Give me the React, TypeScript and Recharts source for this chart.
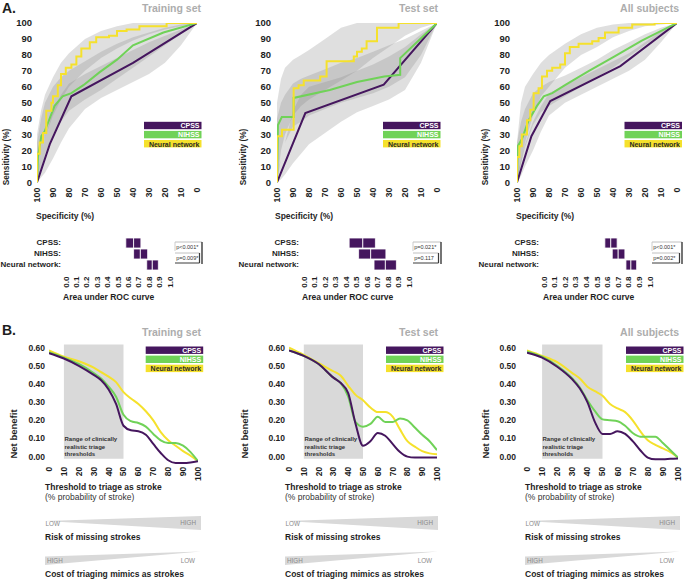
import React from 'react';
import { ComposedChart, LineChart, BarChart, Line, Area, Bar, XAxis, YAxis, ReferenceArea } from 'recharts';

const FONT = '"Liberation Sans", Arial, Helvetica, sans-serif';
const PURPLE = '#45165e';
const GREEN = '#70d258';
const YELLOW = '#f5e12c';
const BAND = '#8a8a8a';
const INK = '#1e1e1e';

// ---------- text / categories ----------
const setTitles = ['Training set', 'Test set', 'All subjects'];
const seriesNames = ['CPSS', 'NIHSS', 'Neural network'];
const aucLabels = ['CPSS:', 'NIHSS:', 'Neural network:'];
const rocTicks = [0, 10, 20, 30, 40, 50, 60, 70, 80, 90, 100];
const aucTicks = [0, 0.1, 0.2, 0.3, 0.4, 0.5, 0.6, 0.7, 0.8, 0.9, 1.0];
const dcaYTicks = [0, 0.1, 0.2, 0.3, 0.4, 0.5, 0.6];

// ---------- ROC curves: [100 - specificity, sensitivity] ----------
const trainCpssRoc = [[0, 0], [8, 24], [21.5, 54], [60, 75], [100, 100]];
const trainNihssRoc = [[0, 0], [0.6, 16], [2.7, 29], [4.8, 32], [11, 48], [16, 54], [21.5, 56], [29, 61], [39, 69], [50, 77], [60, 86], [79, 94], [100, 100]];
const trainNnStepFpr = [0, 1.7, 3.75, 5.8, 9, 10, 13, 15, 18, 21.5, 24.6, 27.7, 33, 37, 45, 50, 56, 64, 81];
const trainNnStepSens = [18, 25, 31, 45, 50, 54, 61, 68, 72, 74, 79, 84, 88, 91, 92, 95, 96, 98, 100];

const testCpssRoc = [[0, 0], [17.7, 43.5], [66.7, 61.3], [100, 100]];
const testNihssRoc = [[0, 0], [0.6, 36], [3, 41], [10.4, 41], [10.4, 53], [33, 58], [50, 63], [67, 66.5], [77, 67.5], [77, 78], [100, 100]];
const testNnStepFpr = [0, 3.1, 10.4, 13.5, 16.7, 27, 31, 48, 50, 53, 56, 62.5, 76];
const testNnStepSens = [29, 33, 59, 61, 64, 66.5, 76, 79, 82, 84, 88.5, 97, 100];

const allCpssRoc = [[0, 0], [9, 29], [20.8, 51], [64.6, 73], [100, 100]];
const allNihssRoc = [[0, 0], [0.4, 22.6], [3, 27], [7.3, 39], [12.5, 48], [16.7, 54], [22, 56], [30, 61], [45, 70], [61, 79], [78, 89], [100, 100]];
const allNnStepFpr = [0, 1.5, 3, 6.25, 8.3, 10.4, 13.5, 15.6, 18.75, 22, 27, 30, 33, 38.5, 47, 51, 55, 63.5, 72, 86];
const allNnStepSens = [16, 22.6, 30, 39, 45.6, 56, 59, 66.5, 70, 72, 74, 81, 85, 87, 88.5, 90.6, 94, 97, 99, 100];

// ---------- ROC confidence bands ----------
const bandFpr = [0, 2.5, 5, 10, 15, 20, 30, 40, 50, 60, 70, 80, 90, 100];
const trainCpssLo = [0, 3, 6, 15, 25, 34, 46, 53, 58, 63, 68, 75, 86, 100];
const trainCpssHi = [5, 15, 28, 45, 55, 62, 68, 73, 78, 83, 88, 92, 96, 100];
const trainNihssLo = [0, 8, 18, 30, 38, 45, 52, 58, 65, 72, 79, 86, 93, 100];
const trainNihssHi = [25, 40, 50, 60, 66, 70, 76, 82, 87, 91, 94, 97, 99, 100];
const trainNnLo = [0, 15, 28, 42, 52, 60, 70, 78, 84, 89, 93, 96, 98, 100];
const trainNnHi = [30, 45, 55, 66, 75, 81, 90, 95, 98, 100, 100, 100, 100, 100];

const testCpssLo = [0, 2, 5, 12, 18, 24, 31, 38, 44, 48, 52, 58, 75, 100];
const testCpssHi = [5, 15, 25, 45, 55, 60, 63, 66, 70, 74, 79, 85, 93, 100];
const testNihssLo = [0, 15, 25, 35, 38, 42, 46, 50, 53, 56, 60, 66, 80, 100];
const testNihssHi = [40, 50, 55, 62, 65, 67, 71, 75, 78, 82, 86, 90, 95, 100];
const testNnLo = [0, 20, 30, 42, 48, 52, 58, 64, 70, 78, 85, 92, 97, 100];
const testNnHi = [50, 65, 72, 77, 80, 83, 90, 97, 100, 100, 100, 100, 100, 100];

const allCpssLo = [0, 4, 10, 20, 32, 42, 50, 55, 60, 65, 70, 77, 88, 100];
const allCpssHi = [4, 14, 24, 38, 48, 56, 61, 66, 71, 76, 81, 88, 95, 100];
const allNihssLo = [0, 12, 22, 36, 44, 48, 54, 60, 66, 72, 79, 86, 93, 100];
const allNihssHi = [25, 38, 46, 56, 60, 63, 67, 72, 77, 83, 88, 93, 97, 100];
const allNnLo = [0, 12, 25, 42, 54, 60, 72, 80, 85, 91, 95, 98, 99, 100];
const allNnHi = [25, 50, 60, 68, 75, 80, 87, 93, 97, 99, 100, 100, 100, 100];

// ---------- AUC (lower CI, estimate, upper CI) ----------
const trainAucLo = [0.575, 0.65, 0.776];
const trainAucEst = [0.65, 0.715, 0.83];
const trainAucHi = [0.72, 0.785, 0.888];
const testAucLo = [0.43, 0.52, 0.667];
const testAucEst = [0.56, 0.635, 0.775];
const testAucHi = [0.68, 0.78, 0.88];
const allAucLo = [0.574, 0.644, 0.773];
const allAucEst = [0.63, 0.70, 0.82];
const allAucHi = [0.69, 0.763, 0.874];
const trainP = ['p<0.001*', 'p=0.009*'];
const testP = ['p=0.021*', 'p=0.117'];
const allP = ['p<0.001*', 'p=0.002*'];

// ---------- Decision curves (net benefit) ----------
const dcaT = [0, 10, 20, 30, 35, 40, 45, 50, 55, 60, 65, 70, 75, 80, 85, 90, 95, 100];
const trainDcaCpss = [0.57, 0.54, 0.50, 0.45, 0.42, 0.37, 0.29, 0.17, 0.145, 0.14, 0.12, 0.07, 0.02, -0.02, -0.035, -0.035, -0.032, -0.025];
const trainDcaNihss = [0.575, 0.545, 0.51, 0.46, 0.43, 0.385, 0.33, 0.23, 0.195, 0.185, 0.165, 0.125, 0.09, 0.075, 0.075, 0.06, 0.025, -0.025];
const trainDcaNn = [0.585, 0.55, 0.525, 0.49, 0.465, 0.44, 0.41, 0.355, 0.32, 0.29, 0.25, 0.2, 0.135, 0.09, 0.06, 0.03, 0.005, -0.025];
const testDcaCpss = [0.585, 0.555, 0.51, 0.435, 0.405, 0.35, 0.18, 0.06, 0.085, 0.13, 0.115, 0.07, 0.025, 0.0, -0.005, -0.005, -0.005, -0.005];
const testDcaNihss = [0.585, 0.555, 0.51, 0.435, 0.405, 0.33, 0.19, 0.165, 0.18, 0.22, 0.19, 0.19, 0.21, 0.2, 0.16, 0.12, 0.085, 0.035];
const testDcaNn = [0.6, 0.56, 0.515, 0.47, 0.445, 0.39, 0.34, 0.31, 0.27, 0.245, 0.245, 0.22, 0.15, 0.085, 0.055, 0.03, 0.018, 0.013];
const allDcaCpss = [0.572, 0.545, 0.495, 0.425, 0.375, 0.3, 0.19, 0.125, 0.125, 0.14, 0.125, 0.085, 0.035, -0.005, -0.015, -0.015, -0.012, -0.01];
const allDcaNihss = [0.578, 0.55, 0.5, 0.43, 0.38, 0.31, 0.25, 0.205, 0.2, 0.195, 0.17, 0.13, 0.11, 0.11, 0.11, 0.075, 0.035, -0.005];
const allDcaNn = [0.585, 0.555, 0.52, 0.46, 0.43, 0.385, 0.36, 0.335, 0.29, 0.265, 0.245, 0.2, 0.14, 0.09, 0.065, 0.045, 0.025, -0.005];

// ---------- builders ----------
function stairs(fpr: number[], sens: number[]) {
  const pts: number[][] = [[0, 0]];
  let prev = 0;
  fpr.forEach((f, i) => { pts.push([f, prev]); pts.push([f, sens[i]]); prev = sens[i]; });
  pts.push([100, prev]);
  return pts;
}
function rocLineRows(c: number[][], n: number[][], y: number[][]) {
  const rows: any[] = [];
  c.forEach(([f, s]) => rows.push({ fpr: f, cpss: s }));
  n.forEach(([f, s]) => rows.push({ fpr: f, nihss: s }));
  y.forEach(([f, s]) => rows.push({ fpr: f, nn: s }));
  return rows.sort((a, b) => a.fpr - b.fpr);
}
function bandRows(cl: number[], ch: number[], nl: number[], nh: number[], yl: number[], yh: number[]) {
  return bandFpr.map((f, i) => ({ fpr: f, cpssBand: [cl[i], ch[i]], nihssBand: [nl[i], nh[i]], nnBand: [yl[i], yh[i]] }));
}
function aucRows(lo: number[], est: number[], hi: number[]) {
  return aucLabels.map((name, i) => ({ name, base: lo[i], low: est[i] - lo[i], high: hi[i] - est[i] }));
}
function dcaRows(c: number[], n: number[], y: number[]) {
  return dcaT.map((t, i) => ({ t, cpss: c[i], nihss: n[i], nn: y[i] }));
}

const rocSets = [
  { lines: rocLineRows(trainCpssRoc, trainNihssRoc, stairs(trainNnStepFpr, trainNnStepSens)), bands: bandRows(trainCpssLo, trainCpssHi, trainNihssLo, trainNihssHi, trainNnLo, trainNnHi) },
  { lines: rocLineRows(testCpssRoc, testNihssRoc, stairs(testNnStepFpr, testNnStepSens)), bands: bandRows(testCpssLo, testCpssHi, testNihssLo, testNihssHi, testNnLo, testNnHi) },
  { lines: rocLineRows(allCpssRoc, allNihssRoc, stairs(allNnStepFpr, allNnStepSens)), bands: bandRows(allCpssLo, allCpssHi, allNihssLo, allNihssHi, allNnLo, allNnHi) },
];
const aucSets = [aucRows(trainAucLo, trainAucEst, trainAucHi), aucRows(testAucLo, testAucEst, testAucHi), aucRows(allAucLo, allAucEst, allAucHi)];
const pSets = [trainP, testP, allP];
const dcaSets = [dcaRows(trainDcaCpss, trainDcaNihss, trainDcaNn), dcaRows(testDcaCpss, testDcaNihss, testDcaNn), dcaRows(allDcaCpss, allDcaNihss, allDcaNn)];

// ---------- layout ----------
const L = [
  { roc: { x0: 37, x1: 197, y0: 23.3, y1: 182.7 }, rocGap: 5, auc: { x0: 66, x1: 170, y0: 236.5, y1: 269.5 }, dca: { x0: 49, x1: 198, y0: 344.4, y1: 464.3 }, dcaGap: 4,
    sensX: 5.5, specX: 36, aucX: 63, titleR: 201, legA: 144, legB: 145.7, p: 175, pw: 27, netX: 13, colX0: 45, colX1: 201 },
  { roc: { x0: 277, x1: 437, y0: 23.3, y1: 182.7 }, rocGap: 6, auc: { x0: 304, x1: 409, y0: 236.5, y1: 269.5 }, dca: { x0: 289, x1: 437, y0: 344.4, y1: 464.3 }, dcaGap: 4,
    sensX: 243, specX: 275, aucX: 302, titleR: 438, legA: 383, legB: 386, p: 413, pw: 28, netX: 244.5, colX0: 285, colX1: 438 },
  { roc: { x0: 517, x1: 677, y0: 23.3, y1: 182.7 }, rocGap: 7, auc: { x0: 544, x1: 650, y0: 236.5, y1: 269.5 }, dca: { x0: 527, x1: 678, y0: 343.8, y1: 463.7 }, dcaGap: 11,
    sensX: 485, specX: 516, aucX: 543, titleR: 679, legA: 624.5, legB: 626, p: 652, pw: 30, netX: 485, colX0: 525, colX1: 680 },
];

const RotTick = (props: any) => {
  const { x, y, payload, fmt, fs } = props;
  const label = fmt ? fmt(payload.value) : String(payload.value);
  return (
    <text x={x} y={y} transform={`rotate(-90 ${x} ${y})`} textAnchor="end" dominantBaseline="central"
      fontSize={fs} fontWeight="bold" fill={INK} fontFamily={FONT}>{label}</text>
  );
};

const PlainYTick = (props: any) => {
  const { x, y, payload, fs } = props;
  return (
    <text x={x} y={y} textAnchor="end" dominantBaseline="central" fontSize={fs} fontWeight="bold" fill={INK} fontFamily={FONT}>
      {payload.value}
    </text>
  );
};

function RocPanel({ rect, gap, lines, bands }: any) {
  const padL = 36, padT = 10, padR = 6, padB = 30;
  const W = rect.x1 - rect.x0 + padL + padR;
  const H = rect.y1 - rect.y0 + padT + padB;
  const pos: any = { position: 'absolute', left: rect.x0 - padL, top: rect.y0 - padT };
  const axes = (show: boolean) => [
    <XAxis key="x" type="number" dataKey="fpr" domain={[0, 100]} ticks={rocTicks} interval={0} axisLine={false} tickLine={false}
      tickSize={0} tickMargin={5} height={padB} allowDataOverflow
      tick={show ? (p: any) => <RotTick {...p} fs={9} fmt={(v: number) => String(100 - v)} /> : false} />,
    <YAxis key="y" type="number" domain={[0, 100]} ticks={rocTicks} interval={0} axisLine={false} tickLine={false}
      tickSize={0} tickMargin={gap} width={padL} allowDataOverflow
      tick={show ? (p: any) => <PlainYTick {...p} fs={9.5} /> : false} />,
  ];
  return (
    <>
      <div style={pos}>
        <ComposedChart width={W} height={H} data={bands} margin={{ top: padT, right: padR, left: 0, bottom: 0 }}>
          {axes(true)}
          <Area type="linear" dataKey="cpssBand" stroke="none" fill={BAND} fillOpacity={0.27} isAnimationActive={false} />
          <Area type="linear" dataKey="nihssBand" stroke="none" fill={BAND} fillOpacity={0.27} isAnimationActive={false} />
          <Area type="linear" dataKey="nnBand" stroke="none" fill={BAND} fillOpacity={0.27} isAnimationActive={false} />
        </ComposedChart>
      </div>
      <div style={pos}>
        <LineChart width={W} height={H} data={lines} margin={{ top: padT, right: padR, left: 0, bottom: 0 }}>
          {axes(false)}
          <Line type="linear" dataKey="cpss" stroke={PURPLE} strokeWidth={2} dot={false} connectNulls isAnimationActive={false} />
          <Line type="linear" dataKey="nihss" stroke={GREEN} strokeWidth={2} dot={false} connectNulls isAnimationActive={false} />
          <Line type="linear" dataKey="nn" stroke={YELLOW} strokeWidth={2} dot={false} connectNulls isAnimationActive={false} />
        </LineChart>
      </div>
    </>
  );
}

function AucPanel({ rect, rows }: any) {
  const padL = 66, padT = 4, padR = 4, padB = 24;
  const W = rect.x1 - rect.x0 + padL + padR;
  const H = rect.y1 - rect.y0 + padT + padB;
  return (
    <div style={{ position: 'absolute', left: rect.x0 - padL, top: rect.y0 - padT }}>
      <BarChart layout="vertical" width={W} height={H} data={rows} margin={{ top: padT, right: padR, left: 0, bottom: 0 }} barSize={10}>
        <XAxis type="number" domain={[0, 1]} ticks={aucTicks} interval={0} axisLine={false} tickLine={false} tickSize={0} tickMargin={6.5}
          height={padB} tick={(p: any) => <RotTick {...p} fs={8} fmt={(v: number) => v.toFixed(1)} />} />
        <YAxis type="category" dataKey="name" width={padL} axisLine={false} tickLine={false} tickSize={0} tickMargin={5} interval={0}
          tick={(p: any) => <PlainYTick {...p} fs={8} />} />
        <Bar dataKey="base" stackId="a" fill="transparent" isAnimationActive={false} />
        <Bar dataKey="low" stackId="a" fill={PURPLE} stroke="#ffffff" strokeWidth={0.8} isAnimationActive={false} />
        <Bar dataKey="high" stackId="a" fill={PURPLE} stroke="#ffffff" strokeWidth={0.8} isAnimationActive={false} />
      </BarChart>
    </div>
  );
}

function DcaPanel({ rect, gap, rows }: any) {
  const padL = 44, padT = 8, padR = 6, padB = 22;
  const W = rect.x1 - rect.x0 + padL + padR;
  const H = rect.y1 - rect.y0 + padT + padB;
  return (
    <div style={{ position: 'absolute', left: rect.x0 - padL, top: rect.y0 - padT }}>
      <LineChart width={W} height={H} data={rows} margin={{ top: padT, right: padR, left: 0, bottom: 0 }}>
        <XAxis type="number" dataKey="t" domain={[0, 100]} ticks={rocTicks} interval={0} axisLine={false} tickLine={false} tickSize={0} tickMargin={3}
          height={padB} allowDataOverflow tick={(p: any) => <RotTick {...p} fs={8.5} />} />
        <YAxis type="number" domain={[-0.04, 0.62]} ticks={dcaYTicks} interval={0} axisLine={false} tickLine={false} tickSize={0} tickMargin={gap}
          width={padL} allowDataOverflow tickFormatter={(v: number) => v.toFixed(2)}
          tick={{ fontSize: 8.5, fontWeight: 'bold', fill: INK, fontFamily: FONT }} />
        <ReferenceArea x1={10} x2={50} y1={-0.012} y2={0.617} fill="#d9d9d9" fillOpacity={1} stroke="none" ifOverflow="visible" />
        <Line type="monotone" dataKey="nn" stroke={YELLOW} strokeWidth={2} dot={false} isAnimationActive={false} />
        <Line type="monotone" dataKey="nihss" stroke={GREEN} strokeWidth={2} dot={false} isAnimationActive={false} />
        <Line type="monotone" dataKey="cpss" stroke={PURPLE} strokeWidth={2} dot={false} isAnimationActive={false} />
      </LineChart>
    </div>
  );
}

const T = ({ x, y, s, fs = 8.5, w = 'bold', fill = INK, anchor = 'start', rot = false }: any) => (
  <text x={x} y={y} fontSize={fs} fontWeight={w} fill={fill} textAnchor={anchor} dominantBaseline="central"
    fontFamily={FONT} transform={rot ? `rotate(-90 ${x} ${y})` : undefined}>{s}</text>
);

const legendColors = [PURPLE, GREEN, YELLOW];
const legendText = ['#ffffff', '#ffffff', '#2a2a2a'];

const LegendBars = ({ x, y, w = 57.5, h = 7.4, dy = 9.1 }: any) => (
  <g>
    {seriesNames.map((name, i) => (
      <g key={name}>
        <rect x={x} y={y + i * dy} width={w} height={h} fill={legendColors[i]} />
        <text x={x + w - 2} y={y + i * dy + h / 2 + 0.3} fontSize={7} fontWeight="bold" fill={legendText[i]} textAnchor="end"
          dominantBaseline="central" fontFamily={FONT}>{name}</text>
      </g>
    ))}
  </g>
);

function Overlay() {
  return (
    <svg width={685} height={579} style={{ position: 'absolute', left: 0, top: 0, pointerEvents: 'none' }}>
      <T x={2} y={8} s="A." fs={14} />
      <T x={2} y={330} s="B." fs={14} />
      {L.map((c, i) => (
        <g key={i}>
          <T x={c.titleR} y={8} s={setTitles[i]} fs={10.5} fill="#adadad" anchor="end" />
          <T x={c.titleR} y={332} s={setTitles[i]} fs={10.5} fill="#adadad" anchor="end" />
          <T x={c.sensX} y={157} s="Sensitivity (%)" fs={8.3} anchor="middle" rot />
          <T x={c.specX} y={216} s="Specificity (%)" fs={8.5} />
          <T x={c.aucX} y={297} s="Area under ROC curve" fs={8.5} />
          <LegendBars x={c.legA} y={121.8} />
          <LegendBars x={c.legB} y={346.5} />
          {/* p-value brackets */}
          <g>
            <line x1={c.p} y1={242} x2={c.p + c.pw} y2={242} stroke="#b0b0b0" strokeWidth={0.8} />
            <line x1={c.p} y1={242} x2={c.p} y2={251} stroke="#c0c0c0" strokeWidth={0.8} />
            <line x1={c.p + c.pw} y1={242} x2={c.p + c.pw} y2={264} stroke="#3a3a3a" strokeWidth={1.4} />
            <line x1={c.p} y1={253} x2={c.p + c.pw - 2.5} y2={253} stroke="#b0b0b0" strokeWidth={0.8} />
            <line x1={c.p + c.pw - 2.5} y1={253} x2={c.p + c.pw - 2.5} y2={263} stroke="#3a3a3a" strokeWidth={1.2} />
            <line x1={c.p} y1={263} x2={c.p + c.pw - 2.5} y2={263} stroke="#3a3a3a" strokeWidth={1} />
            <T x={c.p + 1.2} y={247} s={pSets[i][0]} fs={5.5} w="normal" fill="#333" />
            <T x={c.p + 1.2} y={258} s={pSets[i][1]} fs={5.5} w="normal" fill="#333" />
          </g>
          <T x={c.netX} y={434} s="Net benefit" fs={9.5} anchor="middle" rot />
          <T x={c.dca.x0 + 15.5} y={439.3} s="Range of clinically" fs={6} fill="#333" />
          <T x={c.dca.x0 + 15.5} y={446.7} s="realistic triage" fs={6} fill="#333" />
          <T x={c.dca.x0 + 15.5} y={454} s="thresholds" fs={6} fill="#333" />
          <T x={c.colX0} y={487.3} s="Threshold to triage as stroke" fs={8.5} />
          <T x={c.colX0} y={496.7} s="(% probability of stroke)" fs={8.5} w="normal" fill="#333" />
          <polygon points={`${c.colX0},521 ${c.colX1},516 ${c.colX1},530`} fill="#d9d9d9" />
          <T x={c.colX0 + 0.5} y={523} s="LOW" fs={6.3} w="normal" fill="#8a8a8a" />
          <T x={c.colX1 - 5} y={522} s="HIGH" fs={6.3} w="normal" fill="#8a8a8a" anchor="end" />
          <T x={c.colX0} y={536.7} s="Risk of missing strokes" fs={8.5} />
          <polygon points={`${c.colX0},556.5 ${c.colX1},551.5 ${c.colX0},565`} fill="#d9d9d9" />
          <T x={c.colX0 + 2} y={560} s="HIGH" fs={6.3} w="normal" fill="#8a8a8a" />
          <T x={c.colX1 - 6} y={560.7} s="LOW" fs={6.3} w="normal" fill="#8a8a8a" anchor="end" />
          <T x={c.colX0} y={574} s="Cost of triaging mimics as strokes" fs={8.5} />
        </g>
      ))}
    </svg>
  );
}

export default function App() {
  return (
    <div style={{ position: 'absolute', left: 0, top: 0, width: 685, height: 579, background: '#ffffff', fontFamily: FONT, overflow: 'hidden' }}>
      {L.map((c, i) => (
        <React.Fragment key={i}>
          <RocPanel rect={c.roc} gap={c.rocGap} lines={rocSets[i].lines} bands={rocSets[i].bands} />
          <AucPanel rect={c.auc} rows={aucSets[i]} />
          <DcaPanel rect={c.dca} gap={c.dcaGap} rows={dcaSets[i]} />
        </React.Fragment>
      ))}
      <Overlay />
    </div>
  );
}
